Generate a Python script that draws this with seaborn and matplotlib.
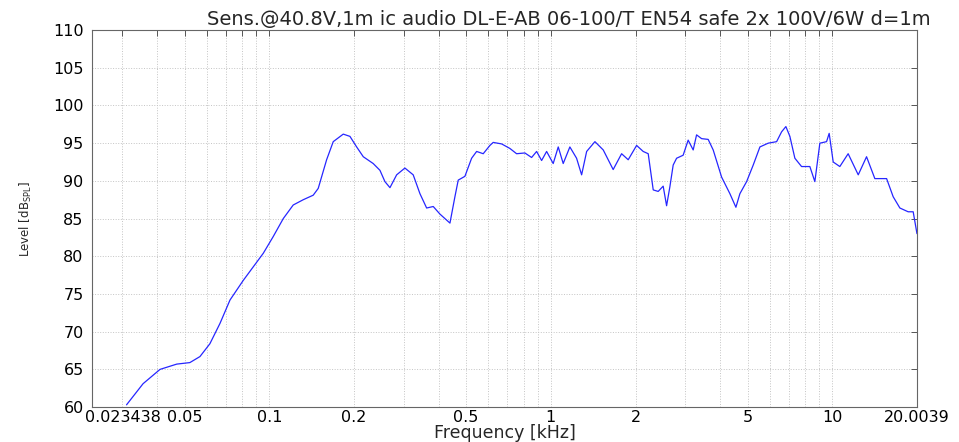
import numpy as np
import pandas as pd
import matplotlib
matplotlib.use("Agg")
import matplotlib.pyplot as plt
import matplotlib.transforms as mtransforms
import seaborn as sns

# frequency response (kHz, dB SPL)
freq_khz = [0.0311, 0.0356, 0.0409, 0.0469, 0.0522, 0.0567, 0.0615, 0.0668, 0.0725,
            0.0808, 0.0877, 0.0952, 0.1032, 0.1121, 0.1216, 0.1320, 0.1432, 0.1492,
            0.1598, 0.1687, 0.1831, 0.1934, 0.2043, 0.2157, 0.2339, 0.2472, 0.2575,
            0.2683, 0.2834, 0.3032, 0.3245, 0.3429, 0.3622, 0.3823,
            0.4037, 0.4383, 0.4565, 0.4690, 0.4953, 0.5233, 0.5452, 0.5754, 0.6078,
            0.6244, 0.6689, 0.7157, 0.7560, 0.8091, 0.8549, 0.8906, 0.9278, 0.9665,
            1.020, 1.063, 1.107, 1.169, 1.235, 1.287, 1.341, 1.435, 1.536, 1.666,
            1.785, 1.884, 2.018, 2.130, 2.219, 2.312, 2.408, 2.508, 2.579, 2.649,
            2.722, 2.799, 2.953, 3.077, 3.206, 3.296, 3.434, 3.624, 3.776, 4.045,
            4.329, 4.547, 4.698, 4.963, 5.239, 5.534, 5.923, 6.344, 6.607, 6.844,
            7.071, 7.366, 7.780, 8.326, 8.674, 9.037, 9.546, 9.752, 10.08, 10.64,
            11.39, 12.37, 13.24, 14.17, 15.60, 16.46, 17.39, 18.61, 19.39, 20.0]
level_db = [60.3, 63.1, 65.0, 65.7, 65.9, 66.7, 68.4, 71.1, 74.2,
            76.8, 78.6, 80.4, 82.6, 85.0, 86.8, 87.5, 88.1, 89.0,
            92.8, 95.2, 96.2, 95.9, 94.5, 93.2, 92.3, 91.4, 89.9,
            89.1, 90.8, 91.7, 90.8, 88.3, 86.4, 86.6,
            85.6, 84.4, 87.9, 90.1, 90.6, 93.0, 93.9, 93.6, 94.7,
            95.1, 94.9, 94.3, 93.6, 93.7, 93.1, 93.9, 92.7, 93.9,
            92.3, 94.5, 92.3, 94.5, 93.0, 90.8, 93.9, 95.2, 94.1, 91.5,
            93.6, 92.8, 94.7, 93.9, 93.6, 88.8, 88.6, 89.3, 86.7, 89.2,
            92.1, 93.0, 93.4, 95.4, 94.1, 96.1, 95.6, 95.5, 94.1, 90.5,
            88.3, 86.5, 88.3, 89.9, 92.1, 94.5, 95.0, 95.2, 96.5, 97.2,
            95.9, 93.0, 91.9, 91.9, 89.9, 95.0, 95.2, 96.3, 92.5, 91.9,
            93.6, 90.8, 93.2, 90.3, 90.3, 87.9, 86.4, 85.9, 85.9, 83.0]

x_major = [0.023438, 0.05, 0.1, 0.2, 0.5, 1, 2, 5, 10, 20.0039]
x_labels = ["0.023438", "0.05", "0.1", "0.2", "0.5", "1", "2", "5", "10", "20.0039"]
y_ticks = [60, 65, 70, 75, 80, 85, 90, 95, 100, 105, 110]
title = "Sens.@40.8V,1m ic audio DL-E-AB 06-100/T EN54 safe 2x 100V/6W d=1m"

df = pd.DataFrame({"freq": freq_khz, "level": level_db})

sns.set_style("white")
plt.rcParams["font.family"] = ["DejaVu Sans"]
plt.rcParams["mathtext.default"] = "regular"

fig = plt.figure(figsize=(9.59, 4.42), dpi=100)
ax = fig.add_axes([0.0959, 0.079, 0.8603, 0.853])

sns.lineplot(data=df, x="freq", y="level", ax=ax, color="#2626ff", linewidth=0.9)

ax.set_xscale("log")
ax.set_xlim(0.023438, 20.0039)
ax.set_ylim(60, 110)

# minor positions: every 1..9 multiple not already labelled
minor = []
for dec in [0.01, 0.1, 1, 10]:
    for m in range(1, 10):
        v = m * dec
        if 0.023438 < v < 20.0039 and not any(abs(v - t) < 1e-9 for t in x_major):
            minor.append(v)
ax.set_xticks(x_major)
ax.set_xticklabels(x_labels)
ax.set_xticks(minor, minor=True)
ax.xaxis.set_minor_formatter(matplotlib.ticker.NullFormatter())
ax.set_yticks(y_ticks)

ax.grid(True, which="both", axis="x", linestyle=":", color="#c4c4c4", linewidth=0.7)
ax.grid(True, which="major", axis="y", linestyle=":", color="#c4c4c4", linewidth=0.7)

ax.tick_params(which="both", direction="in", top=True, right=True, length=4,
               width=0.7, colors="#555555", labelcolor="black", labelsize=11.5)
ax.tick_params(axis="x", pad=2)
ax.tick_params(axis="y", pad=6)
for s in ax.spines.values():
    s.set_color("#666666")
    s.set_linewidth(0.8)

# first label sits shifted right in the original, running into "0.05"
first = ax.get_xticklabels()[0]
first.set_transform(first.get_transform() +
                    mtransforms.ScaledTranslation(0.31, 0, fig.dpi_scale_trans))

ax.set_xlabel("Frequency [kHz]", fontsize=12.5)
ax.xaxis.set_label_coords(0.5, -0.045)
ax.set_ylabel(r"Level [dB$_{SPL}$]", fontsize=8.5, labelpad=14)
ax.text(1.016, 1.004, title, transform=ax.transAxes, ha="right", va="bottom", fontsize=14)

fig.savefig("out.png", dpi=100)
